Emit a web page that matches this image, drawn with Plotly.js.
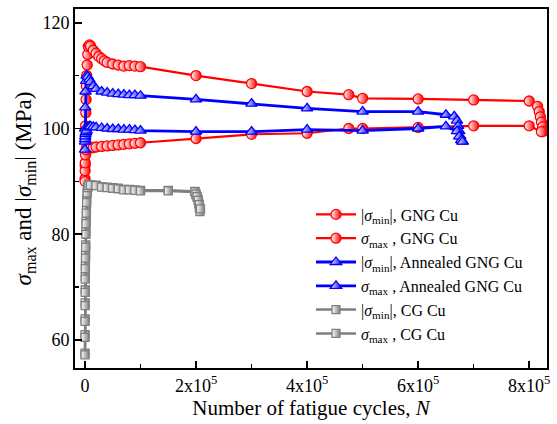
<!DOCTYPE html>
<html>
<head>
<meta charset="utf-8">
<script src="https://cdn.plot.ly/plotly-3.0.1.min.js"></script>
<style>html,body{margin:0;padding:0;background:#fff;}#chart{width:557px;height:424px;}</style>
</head>
<body>
<div id="chart"></div>
<script>
// GNG Cu |sigma_min|
const gngMinN = [100, 300, 500, 800, 1000, 1500, 2000, 2500, 3000, 4000, 5000, 6000, 8000, 10000, 15000, 20000, 25000, 30000, 35000, 40000, 50000, 60000, 70000, 80000, 90000, 100000, 200000, 300000, 400000, 475000, 500000, 600000, 700000, 800000, 815000, 818000, 820000, 822000, 824000, 826000];
const gngMinV = [90.5, 93, 95.5, 98, 100.5, 103, 105.5, 108, 110, 112, 114, 115.5, 115.8, 115.6, 114.8, 114.2, 113.6, 113.2, 112.8, 112.5, 112.2, 112.0, 111.8, 111.9, 111.8, 111.7, 110.0, 108.5, 107.0, 106.4, 105.7, 105.6, 105.4, 105.2, 104.2, 103.2, 102.2, 101.2, 100.3, 99.5];
// GNG Cu sigma_max
const gngMaxN = [100, 300, 500, 1000, 2000, 3000, 5000, 10000, 15000, 20000, 30000, 40000, 50000, 60000, 70000, 80000, 90000, 100000, 200000, 300000, 400000, 475000, 500000, 600000, 700000, 800000, 822000];
const gngMaxV = [90, 92, 93.5, 95, 96, 96.4, 96.7, 96.3, 96.4, 96.5, 96.6, 96.7, 96.8, 96.9, 97.0, 97.1, 97.2, 97.3, 98.1, 98.9, 99.1, 100.0, 100.0, 100.2, 100.5, 100.5, 99.4];
// Annealed GNG Cu |sigma_min|
const annMinN = [100, 300, 500, 1000, 2000, 3000, 5000, 8000, 10000, 15000, 20000, 30000, 40000, 50000, 60000, 70000, 80000, 90000, 100000, 200000, 300000, 400000, 500000, 600000, 650000, 665000, 670000, 672000, 674000, 676000, 678000, 680000];
const annMinV = [96, 100, 104, 107, 109, 110, 109.8, 109.3, 108.8, 108, 107.5, 107, 106.8, 106.6, 106.5, 106.4, 106.3, 106.3, 106.2, 105.5, 104.7, 103.8, 103.2, 103.2, 102.6, 102.3, 101.5, 100.5, 99.5, 98.5, 97.8, 97.5];
// Annealed GNG Cu sigma_max
const annMaxN = [100, 300, 500, 1000, 2000, 3000, 5000, 8000, 10000, 15000, 20000, 30000, 40000, 50000, 60000, 70000, 80000, 90000, 100000, 200000, 300000, 400000, 500000, 600000, 650000, 670000, 674000, 678000, 680000];
const annMaxV = [97.5, 98, 98.5, 99, 99.3, 99.6, 100.2, 100.4, 100.4, 100.3, 100.2, 100.1, 100, 99.9, 99.9, 99.8, 99.8, 99.7, 99.6, 99.4, 99.4, 99.8, 99.6, 100.0, 100.4, 99.5, 98.5, 97.8, 97.5];
// CG Cu |sigma_min|
const cgMinN = [50, 100, 200, 300, 400, 500, 700, 1000, 1300, 1600, 2000, 2500, 3000, 4000, 5000, 7000, 10000, 20000, 30000, 40000, 50000, 60000, 70000, 80000, 90000, 100000, 150000, 198000, 200000, 202000, 204000, 205000, 206000, 207000];
const cgMinV = [57.5, 61, 64, 67, 69.5, 72, 74, 76, 78, 80.5, 82.5, 84.5, 86.5, 88, 89, 89.4, 89.4, 89.3, 89.0, 88.9, 88.8, 88.7, 88.5, 88.5, 88.4, 88.3, 88.3, 88.1, 87.5, 87, 86.5, 85.8, 85, 84.3];
// CG Cu sigma_max
const cgMaxN = [50, 100, 200, 300, 400, 500, 700, 1000, 1300, 1600, 2000, 2500, 3000, 4000, 5000, 7000, 10000, 20000, 30000, 40000, 50000, 60000, 70000, 80000, 90000, 100000, 150000, 198000, 200000, 202000, 204000, 206000, 208000];
const cgMaxV = [57.2, 60.5, 63.5, 66.5, 69, 71.5, 73.5, 75.5, 77.5, 80, 82, 84, 86, 87.8, 88.8, 89.2, 89.3, 89.2, 88.9, 88.8, 88.7, 88.6, 88.4, 88.4, 88.3, 88.2, 88.2, 88.0, 87.6, 87.1, 86.4, 85.6, 84.8];

const xTickVals = [0, 200000, 400000, 600000, 800000];
const xTickText = ['0', '2x10<sup>5</sup>', '4x10<sup>5</sup>', '6x10<sup>5</sup>', '8x10<sup>5</sup>'];
const yTickVals = [60, 80, 100, 120];

const names = [
  '|<i>σ</i><sub>min</sub>|, GNG Cu',
  '<i>σ</i><sub>max</sub> , GNG Cu',
  '|<i>σ</i><sub>min</sub>|, Annealed GNG Cu',
  '<i>σ</i><sub>max</sub> , Annealed GNG Cu',
  '|<i>σ</i><sub>min</sub>|, CG Cu',
  '<i>σ</i><sub>max</sub> , CG Cu'
];

function tr(x, y, name, color, symbol, size, lw) {
  return {
    x: x, y: y, name: name, type: 'scatter', mode: 'lines+markers',
    line: {color: color, width: lw},
    marker: {symbol: symbol, size: size, color: 'white',
             line: {color: color, width: 1.3},
             gradient: {type: 'horizontal', color: color}}
  };
}

const RED = '#ff0000', BLUE = '#0000ff', GRAY = '#7f7f7f';
const data = [
  tr(gngMinN, gngMinV, names[0], RED, 'circle', 10, 2.2),
  tr(gngMaxN, gngMaxV, names[1], RED, 'circle', 10, 2.2),
  tr(annMinN, annMinV, names[2], BLUE, 'triangle-up', 10, 2.8),
  tr(annMaxN, annMaxV, names[3], BLUE, 'triangle-up', 10, 2.8),
  tr(cgMinN, cgMinV, names[4], GRAY, 'square', 8, 2.5),
  tr(cgMaxN, cgMaxV, names[5], GRAY, 'square', 8, 2.5)
];

const font = {family: '"Liberation Serif", "Times New Roman", serif', color: '#000'};

const layout = {
  width: 557, height: 424,
  margin: {l: 75, r: 10, t: 9, b: 56},
  paper_bgcolor: '#fff', plot_bgcolor: '#fff',
  font: Object.assign({size: 18}, font),
  showlegend: true,
  legend: {x: 0.5, y: 0.475, xanchor: 'left', yanchor: 'top',
           font: Object.assign({size: 16}, font),
           bgcolor: 'rgba(0,0,0,0)', tracegroupgap: 0, itemwidth: 40},
  xaxis: {
    range: [-18000, 832000],
    tickmode: 'array', tickvals: xTickVals, ticktext: xTickText,
    ticks: 'inside', ticklen: 7, tickwidth: 1.5, tickcolor: '#000',
    minor: {tickmode: 'array', tickvals: [100000, 300000, 500000, 700000], ticks: 'inside', ticklen: 4, tickwidth: 1.5, tickcolor: '#000'},
    showline: true, linecolor: '#000', linewidth: 2, mirror: true,
    showgrid: false, zeroline: false,
    tickfont: Object.assign({size: 18}, font),
    title: {text: 'Number of fatigue cycles, <i>N</i>', font: Object.assign({size: 21}, font), standoff: 1}
  },
  yaxis: {
    range: [54.7, 122.6],
    tickmode: 'array', tickvals: yTickVals,
    ticks: 'inside', ticklen: 7, tickwidth: 1.5, tickcolor: '#000',
    minor: {tickmode: 'array', tickvals: [70, 90, 110], ticks: 'inside', ticklen: 4, tickwidth: 1.5, tickcolor: '#000'},
    showline: true, linecolor: '#000', linewidth: 2, mirror: true,
    showgrid: false, zeroline: false,
    tickfont: Object.assign({size: 18}, font),
    title: {text: '<i>σ</i><sub>max</sub> and |<i>σ</i><sub>min</sub>| (MPa)', font: Object.assign({size: 23}, font), standoff: 4}
  }
};

Plotly.newPlot('chart', data, layout, {displayModeBar: false, staticPlot: true});
</script>
</body>
</html>
